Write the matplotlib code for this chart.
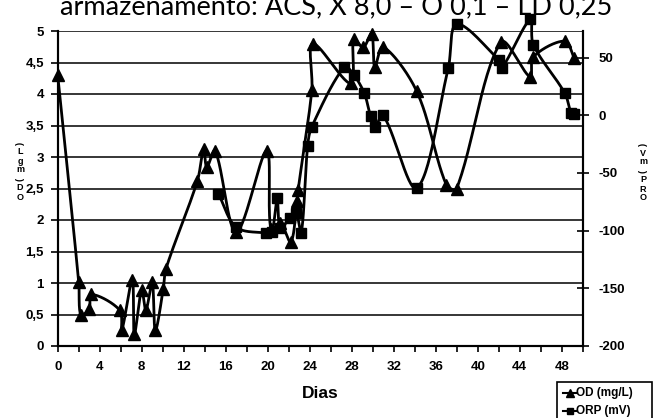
import matplotlib
matplotlib.use('Agg')
import matplotlib.pyplot as plt
import numpy as np
from matplotlib.lines import Line2D
from matplotlib.patches import Rectangle

# ---------------- data ----------------
od_days = [0, 2.0, 2.2, 3.0, 3.2, 5.9, 6.1, 7.1, 7.3, 8.0, 8.4, 9.0, 9.3, 10.05, 10.3,
           13.3, 13.9, 14.2, 15.0, 17.0, 19.9, 20.3, 21.2, 22.2, 22.8, 22.9, 24.2, 24.3,
           27.9, 28.2, 29.1, 29.9, 30.2, 31.0, 34.2, 37.0, 38.0, 42.2, 45.0, 45.3, 48.3, 49.2]
od_vals = [4.3, 1.02, 0.49, 0.59, 0.82, 0.57, 0.25, 1.05, 0.19, 0.89, 0.57, 1.01, 0.25, 0.9, 1.22,
           2.62, 3.13, 2.84, 3.1, 1.81, 3.1, 1.85, 1.95, 1.65, 2.3, 2.48, 4.06, 4.8,
           4.17, 4.87, 4.74, 4.96, 4.43, 4.75, 4.04, 2.56, 2.5, 4.82, 4.27, 4.59, 4.84, 4.57]

orp_days = [15.3, 17.0, 19.8, 20.4, 20.9, 21.2, 22.1, 22.7, 23.2, 23.8, 24.2, 27.3, 28.2,
            29.2, 29.8, 30.2, 31.0, 34.2, 37.2, 38.0, 42.0, 42.3, 45.0, 45.3, 48.3, 48.9, 49.2]
orp_vals = [-68, -97, -102, -101, -72, -98, -89, -85, -102, -27, -10, 42, 35,
            19, -1, -10, 0, -63, 41, 79, 48, 41, 83, 61, 19, 2, 1]

x_ticks = [0, 4, 8, 12, 16, 20, 24, 28, 32, 36, 40, 44, 48]
od_ticks = [0, 0.5, 1, 1.5, 2, 2.5, 3, 3.5, 4, 4.5, 5]
od_tick_labels = ['0', '0,5', '1', '1,5', '2', '2,5', '3', '3,5', '4', '4,5', '5']
orp_ticks = [-200, -150, -100, -50, 0, 50]
title_text = 'armazenamento: ACS, X 8,0 \u2013 O 0,1 \u2013 LD 0,25'
x_label = 'Dias'
od_name = 'OD (mg/L)'
orp_name = 'ORP (mV)'

# ---------------- layout ----------------
W, H = 662, 418
L, R, T, B = 57.7, 582.7, 31, 346
fig = plt.figure(figsize=(W / 100, H / 100), dpi=100)
ax = fig.add_axes([L / W, (H - B) / H, (R - L) / W, (B - T) / H])
XL = (0, 50)
YL = (0, 5)
YR = (-200, 73)
ax.set_xlim(*XL)
ax.set_ylim(*YL)
ax2 = ax.twinx()
ax2.set_ylim(*YR)

wpx, hpx = R - L, B - T


def excel_smooth(xs, ys, xlim, ylim, n=30, s=1 / 3.0):
    X = (np.asarray(xs, float) - xlim[0]) / (xlim[1] - xlim[0]) * wpx
    Y = (np.asarray(ys, float) - ylim[0]) / (ylim[1] - ylim[0]) * hpx
    P = np.column_stack([X, Y])
    m = len(P)
    out = [P[0]]
    t = np.linspace(0, 1, n)[1:, None]
    for i in range(m - 1):
        p0 = P[i - 1] if i > 0 else P[i]
        p1, p2 = P[i], P[i + 1]
        p3 = P[i + 2] if i + 2 < m else P[i + 1]
        d01 = np.hypot(*(p1 - p0))
        d12 = np.hypot(*(p2 - p1))
        d23 = np.hypot(*(p3 - p2))
        f1 = d12 / (d01 + d12) if (d01 + d12) > 0 else 0
        f2 = d12 / (d12 + d23) if (d12 + d23) > 0 else 0
        c1 = p1 + (p2 - p0) * f1 * s
        c2 = p2 - (p3 - p1) * f2 * s
        seg = (1 - t) ** 3 * p1 + 3 * (1 - t) ** 2 * t * c1 + 3 * (1 - t) * t ** 2 * c2 + t ** 3 * p2
        out.extend(seg)
    out = np.array(out)
    xd = out[:, 0] / wpx * (xlim[1] - xlim[0]) + xlim[0]
    yd = out[:, 1] / hpx * (ylim[1] - ylim[0]) + ylim[0]
    return xd, yd


# grid
for v in od_ticks:
    ax.axhline(v, color='black', lw=1.1, zorder=1)

sx, sy = excel_smooth(od_days, od_vals, XL, YL)
ax.plot(sx, sy, color='black', lw=2, zorder=3, clip_on=False)
ax.plot(od_days, od_vals, linestyle='none', marker='^', color='black', ms=8, zorder=4, clip_on=False)

rx, ry = excel_smooth(orp_days, orp_vals, XL, YR)
ax2.plot(rx, ry, color='black', lw=2, zorder=3, clip_on=False)
ax2.plot(orp_days, orp_vals, linestyle='none', marker='s', color='black', ms=7.5, zorder=4, clip_on=False)

# axes styling
tick_font = dict(family='Liberation Sans', weight='bold', size=9.5)
ax.set_xticks(x_ticks)
ax.set_xticks(np.arange(2, 51, 4), minor=True)
ax.set_xticklabels([str(v) for v in x_ticks], fontdict=tick_font)
ax.set_yticks(od_ticks)
ax.set_yticklabels(od_tick_labels, fontdict=tick_font)
ax.tick_params(axis='x', which='both', direction='out', length=4, width=1.2, pad=7)
ax.tick_params(axis='y', direction='out', length=5, width=1.2, pad=5)
ax2.set_yticks(orp_ticks)
ax2.set_yticklabels([str(v) for v in orp_ticks], fontdict=tick_font)
ax2.tick_params(axis='y', direction='inout', length=9, width=1.2, pad=7)

for a in (ax, ax2):
    a.spines['top'].set_visible(False)
    for s in ('left', 'right', 'bottom'):
        a.spines[s].set_linewidth(1.5)
        a.spines[s].set_color('black')

ax.set_xlabel(x_label, fontdict=dict(family='Liberation Sans', weight='bold', size=12.5), labelpad=9)

# title (partly cut at top)
tt = fig.text(336 / W, 1 - 14 / H, title_text, ha='center', va='baseline', family='Lato', fontsize=17)
fig.canvas.draw()
bb = tt.get_window_extent()
tt.set_fontsize(17 * 552.0 / bb.width)


# stacked axis labels
def stacked(xpx, items):
    for ch, ypx, rot in items:
        fig.text(xpx / W, 1 - ypx / H, ch, ha='center', va='center', rotation=rot,
                 family='Liberation Sans', weight='bold', fontsize=6.5)


stacked(20, [(')', 143, 90), ('L', 152, 0), ('g', 161, 0), ('m', 170, 0),
             ('(', 179, 90), ('D', 188, 0), ('O', 197, 0)])
stacked(643, [(')', 144, 90), ('V', 153, 0), ('m', 162, 0), ('(', 171, 90),
              ('P', 180, 0), ('R', 189, 0), ('O', 198, 0)])

# legend (drawn in figure pixels; bottom is cut by the figure edge like the reference)
def fx(px):
    return px / W


def fy(py):
    return 1 - py / H


fig.patches.append(Rectangle((fx(556.7), fy(428)), (652.3 - 556.7) / W, (428 - 381.7) / H,
                             transform=fig.transFigure, fill=False, edgecolor='black',
                             lw=1.2, clip_on=False))
leg_font = dict(family='Liberation Sans', weight='bold', size=8.5)
for name, mk, ms, py in [(od_name, '^', 5.5, 392.7), (orp_name, 's', 5, 410.7)]:
    fig.add_artist(Line2D([fx(563), fx(577)], [fy(py), fy(py)], transform=fig.transFigure,
                          color='black', lw=1.5))
    fig.add_artist(Line2D([fx(570)], [fy(py)], transform=fig.transFigure, color='black',
                          marker=mk, ms=ms, linestyle='none'))
    fig.text(fx(576), fy(py), name, ha='left', va='center', fontdict=leg_font)

fig.savefig('out.png', dpi=100)
